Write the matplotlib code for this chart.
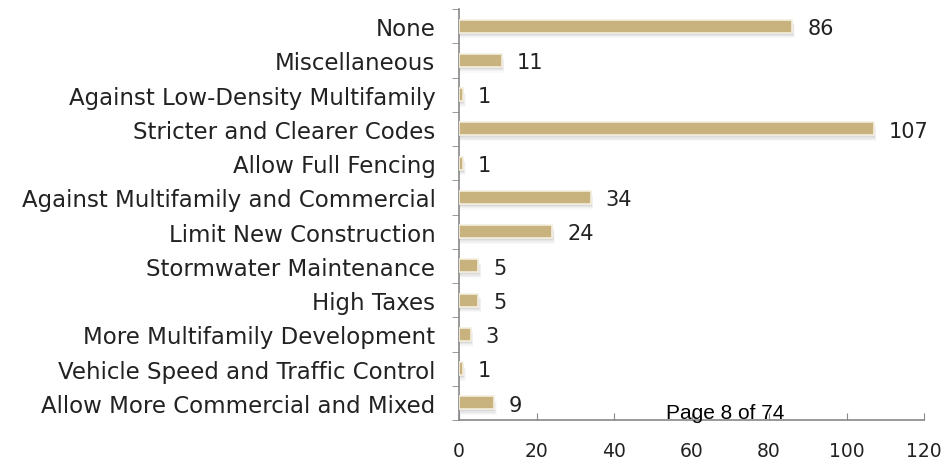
import matplotlib
matplotlib.use("Agg")
import matplotlib.pyplot as plt

categories = [
    "None",
    "Miscellaneous",
    "Against Low-Density Multifamily",
    "Stricter and Clearer Codes",
    "Allow Full Fencing",
    "Against Multifamily and Commercial",
    "Limit New Construction",
    "Stormwater Maintenance",
    "High Taxes",
    "More Multifamily Development",
    "Vehicle Speed and Traffic Control",
    "Allow More Commercial and Mixed",
]
values = [86, 11, 1, 107, 1, 34, 24, 5, 5, 3, 1, 9]
x_ticks = [0, 20, 40, 60, 80, 100, 120]

font = ["DejaVu Sans"]
bar_color = "#C8B27E"
text_color = "#222222"

fig = plt.figure(figsize=(9.46, 4.6), dpi=100)
ax = fig.add_axes([459 / 946, 39 / 460, 465 / 946, 411 / 460])

n = len(categories)
ypos = list(range(n))
bar_h = 0.38

# blurred drop shadow: stacked translucent copies shifted down/right
for k, a in enumerate([0.10, 0.08, 0.06, 0.04]):
    dy = 0.06 + 0.035 * k
    dx = 0.25 + 0.15 * k
    ax.barh([y + dy for y in ypos], [v + dx for v in values], height=bar_h,
            color="#707070", alpha=a, edgecolor="none", zorder=1)
ax.barh(ypos, values, height=bar_h, color=bar_color, edgecolor="#F5EFE0",
        linewidth=1.2, zorder=3)

for y, v in zip(ypos, values):
    ax.text(v + 3.9, y + 0.05, str(v), va="center", ha="left",
            fontsize=15, family=font, color=text_color)

ax.set_xlim(0, 120)
ax.set_ylim(n - 0.5, -0.5)
ax.set_yticks(ypos)
ax.set_yticklabels(categories, family=font, fontsize=16.5, color=text_color)
ax.set_yticks([i - 0.5 for i in range(n + 1)], minor=True)
ax.tick_params(axis="y", which="major", length=0, pad=17)
ax.tick_params(axis="y", which="minor", length=5, color="#888888", direction="out")

ax.set_xticks(x_ticks)
ax.set_xticklabels([str(t) for t in x_ticks], family=font, fontsize=13.5, color=text_color)
ax.tick_params(axis="x", direction="in", length=5, color="#888888", pad=15)

for side in ("top", "right"):
    ax.spines[side].set_visible(False)
for side in ("left", "bottom"):
    ax.spines[side].set_color("#888888")
    ax.spines[side].set_linewidth(1.2)

fig.text(725 / 946, 1 - 414 / 460, "Page 8 of 74", ha="center", va="center",
         fontsize=15, family=["Liberation Sans", "DejaVu Sans"], color="#000000")

fig.savefig("out.png", dpi=100, facecolor="white")
